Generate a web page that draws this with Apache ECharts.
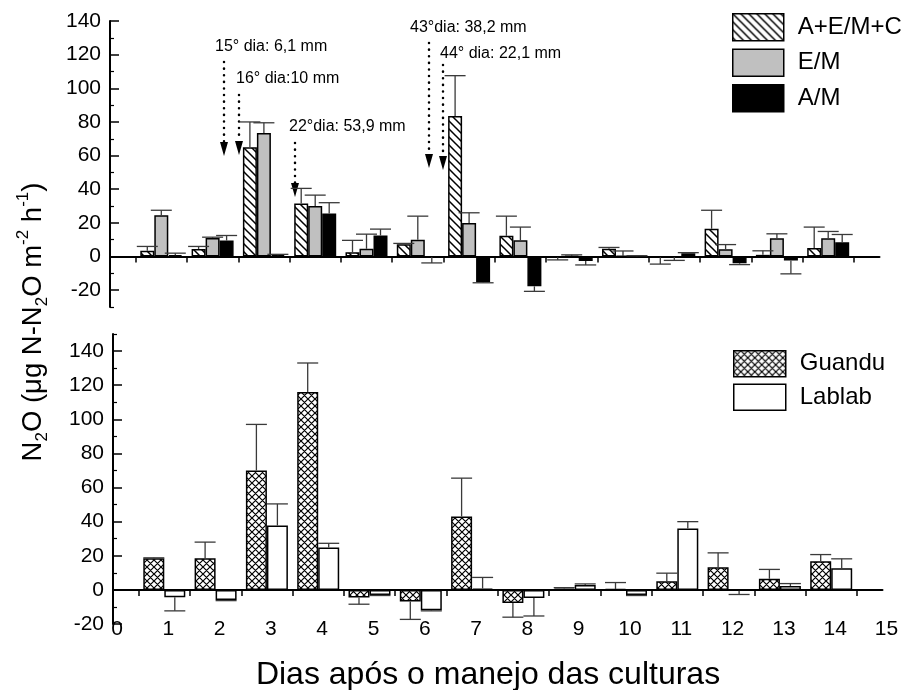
<!DOCTYPE html>
<html><head><meta charset="utf-8">
<script src="https://cdn.jsdelivr.net/npm/echarts@6/dist/echarts.min.js"></script>
<style>html,body{margin:0;padding:0;background:#fff}#c{width:903px;height:690px}</style>
</head><body><div id="c"></div>
<script>
// ---------- DATA ----------
const days = ['0','1','2','3','4','5','6','7','8','9','10','11','12','13','14','15'];
const tickSlots = ['s1','s2','s3','s4','s5','s6','s7','s8','s9','s10','s11','s12','s13','s14','s15'];

const seriesTop = ['A+E/M+C', 'E/M', 'A/M'];
const aemc    = [null, 3.5, 4.5, 65, 31.5, 2.6, 7.3, 83.5, 12.3, -0.5, 4.6, -0.5, 16.5, 1, 5, null];
const aemcErr = [null, 2.5, 1.5, 15, 9, 7, 0.5, 24, 11.7, 1.5, 0.8, 4, 11, 2.4, 12.5, null];
const em      = [null, 24.5, 11, 73.5, 30, 4.6, 10, 20, 9.7, 0.3, 0.3, -0.3, 4.4, 10.9, 10.9, null];
const emErr   = [null, 3, 0.5, 6, 6.5, 8.7, 14, 6, 7.8, 0.7, 3, 2, 2.7, 2.6, 4, null];
const am      = [null, 0.8, 9.5, 0.8, 25.6, 12.5, -0.3, -15.3, -17.7, -2.6, 0.2, 2, -4, -2.4, 8.5, null];
const amErr   = [null, 1.2, 3, 0.5, 6.4, 3.8, 3.5, 0.3, 3, 2.4, 0.3, 0.3, 0.8, 7.9, 4.6, null];

const seriesBottom = ['Guandu', 'Lablab'];
const guandu    = [null, 18.5, 18.5, 70, 116, -4.4, -6.8, 43, -7.7, 0.8, 0.5, 5, 13.3, 6.5, 16.8, null];
const guanduErr = [null, 0.3, 9.5, 27, 17, 4, 10.5, 22.5, 8.3, 0.5, 3.8, 4.8, 8.4, 5.5, 3.9, null];
const lablab    = [null, -4.3, -6, 37.7, 24.8, -3, -12, 0.8, -4.7, 2.9, -3, 36, -0.5, 2.3, 12.7, null];
const lablabErr = [null, 8, 0.3, 12.7, 2.5, 0.3, 0.3, 6.5, 10.6, 0.6, 0.3, 4, 2.2, 1.4, 5.5, null];

const topMajor = [-20, 0, 20, 40, 60, 80, 100, 120, 140];
const topMinor = [-30, -10, 10, 30, 50, 70, 90, 110, 130];
const botMajor = [-20, 0, 20, 40, 60, 80, 100, 120, 140];
const botMinor = [-10, 10, 30, 50, 70, 90, 110, 130, 150];

const notes = ['15° dia: 6,1 mm', '16° dia:10 mm', '22°dia: 53,9 mm', '43°dia: 38,2 mm', '44° dia: 22,1 mm'];

// ---------- PATTERNS ----------
function makePattern(size, dirs, lw) {
  const c = document.createElement('canvas');
  c.width = size; c.height = size;
  const g = c.getContext('2d');
  g.fillStyle = '#fff'; g.fillRect(0, 0, size, size);
  g.strokeStyle = '#000'; g.lineWidth = lw;
  g.beginPath();
  if (dirs.indexOf('\\') >= 0) {
    g.moveTo(-2, -2); g.lineTo(size + 2, size + 2);
    g.moveTo(-2, size - 2); g.lineTo(2, size + 2);
    g.moveTo(size - 2, -2); g.lineTo(size + 2, 2);
  }
  if (dirs.indexOf('/') >= 0) {
    g.moveTo(-2, size + 2); g.lineTo(size + 2, -2);
    g.moveTo(-2, 2); g.lineTo(2, -2);
    g.moveTo(size - 2, size + 2); g.lineTo(size + 2, size - 2);
  }
  g.stroke();
  return c;
}
const hatch = { image: makePattern(8, '\\', 1.5), repeat: 'repeat' };
const cross = { image: makePattern(7, '\\/', 1.2), repeat: 'repeat' };

const FONT = 'Liberation Sans';

function errData(vals, errs) {
  const out = [];
  vals.forEach((v, i) => { if (v != null) out.push([i, v, errs[i]]); });
  return out;
}
function errSeries(name, vals, errs, xi, yi, offset, capW) {
  return {
    type: 'custom', name: name + ' err', xAxisIndex: xi, yAxisIndex: yi, z: 5,
    silent: true,
    data: errData(vals, errs),
    renderItem: function (params, api) {
      const i = api.value(0), v = api.value(1), e = api.value(2);
      const p0 = api.coord([i, v]);
      const p1 = api.coord([i, v >= 0 ? v + e : v - e]);
      const x = p0[0] + offset;
      const st = { stroke: '#3a3a3a', lineWidth: 1.3 };
      return { type: 'group', children: [
        { type: 'line', shape: { x1: x, y1: p0[1], x2: x, y2: p1[1] }, style: st },
        { type: 'line', shape: { x1: x - capW / 2, y1: p1[1], x2: x + capW / 2, y2: p1[1] }, style: st }
      ]};
    }
  };
}
function bar(name, data, color, xi, yi, w) {
  return { type: 'bar', name: name, data: data, xAxisIndex: xi, yAxisIndex: yi,
    barWidth: w, barGap: '0%', z: 3,
    itemStyle: { color: color, borderColor: '#000', borderWidth: 1.5 } };
}

const majorY = (gi, min, max, ticks) => ({
  type: 'value', gridIndex: gi, min: min, max: max, interval: 10, position: 'left',
  splitLine: { show: false },
  axisLine: { show: true, onZero: false, lineStyle: { color: '#000', width: 2 } },
  axisTick: { show: true, inside: true, length: 9, customValues: ticks, lineStyle: { color: '#000', width: 1.5 } },
  axisLabel: { customValues: ticks, fontSize: 21, color: '#000', margin: 9, fontFamily: FONT,
    formatter: v => (v % 20 === 0 && v <= 140) ? String(v) : '' }
});
const minorY = (gi, min, max, ticks) => ({
  type: 'value', gridIndex: gi, min: min, max: max, interval: 10, position: 'left',
  splitLine: { show: false },
  axisLine: { show: false, onZero: false },
  axisTick: { show: true, inside: true, length: 4, customValues: ticks, lineStyle: { color: '#000', width: 1.2 } },
  axisLabel: { show: false }
});

const arrows = [
  { x: 224, y0: 62, y1: 156 },
  { x: 239, y0: 95, y1: 155 },
  { x: 295, y0: 143, y1: 197 },
  { x: 429, y0: 43, y1: 168 },
  { x: 443, y0: 65, y1: 170 }
];
const notePos = [[215, 48], [236, 80], [289, 128], [410, 29], [440, 55]];

const graphics = [];
notes.forEach((t, k) => {
  graphics.push({ type: 'text', left: notePos[k][0], top: notePos[k][1] - 9,
    style: { text: t, font: '16px "' + FONT + '"', fill: '#000' } });
});
arrows.forEach(a => {
  graphics.push({ type: 'line', shape: { x1: a.x, y1: a.y0, x2: a.x, y2: a.y1 - 14 },
    style: { stroke: '#000', lineWidth: 2.5, lineDash: [0.1, 6.5], lineCap: 'round' } });
  graphics.push({ type: 'polygon', shape: { points: [[a.x - 4, a.y1 - 14], [a.x + 4, a.y1 - 14], [a.x, a.y1]] },
    style: { fill: '#000' } });
});
graphics.push({ type: 'text', x: 33, y: 322, rotation: Math.PI / 2,
  style: {
    text: '{n|N}{s|2}{n|O (μg N-N}{s|2}{n|O m}{p|-2}{n| h}{p|-1}{n|)}',
    align: 'center', verticalAlign: 'middle',
    rich: {
      n: { fontSize: 27.5, fontFamily: FONT, lineHeight: 36, verticalAlign: 'middle', fill: '#000' },
      s: { fontSize: 17, fontFamily: FONT, lineHeight: 36, verticalAlign: 'bottom', fill: '#000' },
      p: { fontSize: 17, fontFamily: FONT, lineHeight: 36, verticalAlign: 'top', fill: '#000' }
    }
  }
});
graphics.push({ type: 'text', x: 488, y: 675,
  style: { text: 'Dias após o manejo das culturas', font: '32px "' + FONT + '"', fill: '#000',
    align: 'center', verticalAlign: 'middle' } });

const option = {
  animation: false,
  backgroundColor: '#fff',
  textStyle: { fontFamily: FONT, color: '#000' },
  grid: [
    { left: 110, width: 769.5, top: 21, height: 286 },
    { left: 113, width: 769.5, top: 334, height: 290 }
  ],
  legend: [
    { data: seriesTop, orient: 'vertical', left: 727, top: 8, itemWidth: 51, itemHeight: 27, itemGap: 7,
      icon: 'rect', selectedMode: false,
      itemStyle: { borderColor: '#000', borderWidth: 1.5 },
      textStyle: { fontSize: 24, color: '#000', fontFamily: FONT, padding: [0, 0, 0, 9] } },
    { data: seriesBottom, orient: 'vertical', left: 728, top: 345, itemWidth: 52, itemHeight: 26, itemGap: 6,
      icon: 'rect', selectedMode: false,
      itemStyle: { borderColor: '#000', borderWidth: 1.5 },
      textStyle: { fontSize: 24, color: '#000', fontFamily: FONT, padding: [0, 0, 0, 9] } }
  ],
  xAxis: [
    { type: 'category', gridIndex: 0, data: days, boundaryGap: false, position: 'bottom',
      axisLine: { show: true, onZero: true, onZeroAxisIndex: 0, lineStyle: { color: '#000', width: 2 } },
      axisTick: { show: false }, axisLabel: { show: false }, splitLine: { show: false } },
    { type: 'category', gridIndex: 0, data: tickSlots, boundaryGap: true, position: 'bottom',
      axisLine: { show: false, onZero: true, onZeroAxisIndex: 1 },
      axisTick: { show: true, alignWithLabel: true, length: 6, lineStyle: { color: '#000', width: 1.5 } },
      axisLabel: { show: false }, splitLine: { show: false } },
    { type: 'category', gridIndex: 1, data: days, boundaryGap: false, position: 'bottom',
      axisLine: { show: false, onZero: false }, axisTick: { show: false },
      axisLabel: { show: true, interval: 0, fontSize: 21, color: '#000', fontFamily: FONT, margin: 5.5,
        verticalAlign: 'middle', padding: [0, 0, 0, 8] }, splitLine: { show: false } },
    { type: 'category', gridIndex: 1, data: days, boundaryGap: false, position: 'bottom',
      axisLine: { show: true, onZero: true, onZeroAxisIndex: 2, lineStyle: { color: '#000', width: 2 } },
      axisTick: { show: false }, axisLabel: { show: false }, splitLine: { show: false } },
    { type: 'category', gridIndex: 1, data: tickSlots, boundaryGap: true, position: 'bottom',
      axisLine: { show: false, onZero: true, onZeroAxisIndex: 3 },
      axisTick: { show: true, alignWithLabel: true, length: 6, lineStyle: { color: '#000', width: 1.5 } },
      axisLabel: { show: false }, splitLine: { show: false } }
  ],
  yAxis: [
    majorY(0, -30, 140, topMajor),
    minorY(0, -30, 140, topMinor),
    majorY(1, -20, 150, botMajor),
    minorY(1, -20, 150, botMinor)
  ],
  series: [
    bar(seriesTop[0], aemc, hatch, 0, 0, 14),
    bar(seriesTop[1], em, '#c0c0c0', 0, 0, 14),
    bar(seriesTop[2], am, '#000', 0, 0, 14),
    errSeries(seriesTop[0], aemc, aemcErr, 0, 0, -14, 21),
    errSeries(seriesTop[1], em, emErr, 0, 0, 0, 21),
    errSeries(seriesTop[2], am, amErr, 0, 0, 14, 21),
    bar(seriesBottom[0], guandu, cross, 2, 2, 21),
    bar(seriesBottom[1], lablab, '#fff', 2, 2, 21),
    errSeries(seriesBottom[0], guandu, guanduErr, 2, 2, -10.5, 21),
    errSeries(seriesBottom[1], lablab, lablabErr, 2, 2, 10.5, 21)
  ],
  graphic: graphics
};

const chart = echarts.init(document.getElementById('c'), null, { renderer: 'canvas' });
chart.setOption(option);
</script>
</body></html>
